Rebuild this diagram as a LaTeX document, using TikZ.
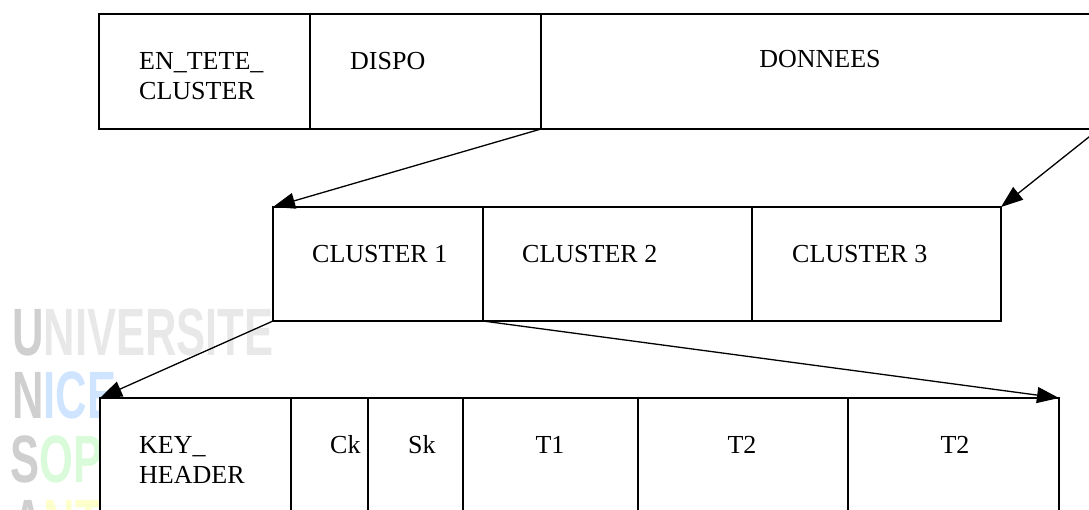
\documentclass[tikz,border=0pt]{standalone}
\usepackage{fontspec}
\setmainfont{Liberation Serif}
\newfontfamily\wmfont{Liberation Sans}
\usetikzlibrary{arrows.meta}
\definecolor{wmgray}{HTML}{CFCFCF}
\definecolor{wmlight}{HTML}{E8E8E8}
\definecolor{wmblue}{HTML}{CFE4FF}
\definecolor{wmgreen}{HTML}{D9FBD9}
\definecolor{wmyellow}{HTML}{FFFFCC}
\tikzset{
  cell/.style={draw, fill=white, line width=1.3pt, inner sep=0pt, outer sep=0pt, anchor=north west},
  lbl/.style={font=\fontsize{26}{29.5}\selectfont, inner sep=0pt, anchor=base west, align=left},
  clbl/.style={font=\fontsize{26}{29.5}\selectfont, inner sep=0pt, anchor=base},
  arr/.style={line width=1.3pt, -{Triangle[length=22pt,width=16pt]}},
  wm/.style={font=\wmfont\bfseries\fontsize{67}{67}\selectfont, inner sep=0pt, anchor=base west, xscale=0.65}
}
\begin{document}
\begin{tikzpicture}[x=1pt,y=-1pt]
\useasboundingbox (0,0) rectangle (1089,509);
\clip (0,0) rectangle (1089,509);

% faded logo in the background (its right part lies under the boxes)
\node[wm] (wm1) at (12,355) {\textcolor{wmgray}{U}\textcolor{wmlight}{NIVERSITE}};
\node[wm] (wm2) at (12,418) {\textcolor{wmgray}{N}\textcolor{wmblue}{ICE}};
\node[wm] (wm3) at (10,482) {\textcolor{wmgray}{S}\textcolor{wmgreen}{OP}};
\node[wm] (wm4) at (12,546) {\textcolor{wmgray}{A}\textcolor{wmyellow}{NT}};

% cluster layout
\node[cell, minimum width=211pt, minimum height=115pt] (entete) at (99,14) {};
\node[cell, minimum width=231pt, minimum height=115pt] (dispo) at (310,14) {};
\node[cell, minimum width=558pt, minimum height=115pt] (donnees) at (541,14) {};
\node[lbl] (tentete) at (139,99) {EN\_TETE\_\\CLUSTER};
\node[lbl] (tdispo) at (350,69) {DISPO};
\node[clbl] (tdonnees) at (820,67) {DONNEES};

% data area
\node[cell, minimum width=210pt, minimum height=114pt] (cl1) at (273,207) {};
\node[cell, minimum width=269pt, minimum height=114pt] (cl2) at (483,207) {};
\node[cell, minimum width=249pt, minimum height=114pt] (cl3) at (752,207) {};
\node[lbl] (tcl1) at (312,262) {CLUSTER 1};
\node[lbl] (tcl2) at (522,262) {CLUSTER 2};
\node[lbl] (tcl3) at (792,262) {CLUSTER 3};

% one cluster
\node[cell, minimum width=191pt, minimum height=140pt] (key) at (100,398) {};
\node[cell, minimum width=77pt, minimum height=140pt] (ck) at (291,398) {};
\node[cell, minimum width=95pt, minimum height=140pt] (sk) at (368,398) {};
\node[cell, minimum width=175pt, minimum height=140pt] (t1) at (463,398) {};
\node[cell, minimum width=210pt, minimum height=140pt] (t2a) at (638,398) {};
\node[cell, minimum width=211pt, minimum height=140pt] (t2b) at (848,398) {};
\node[lbl] (tkey) at (139,483) {KEY\_\\HEADER};
\node[lbl] (tck) at (330,453) {Ck};
\node[lbl] (tsk) at (408,453) {Sk};
\node[clbl] (tt1) at (550,453) {T1};
\node[clbl] (tt2a) at (742,453) {T2};
\node[clbl] (tt2b) at (955,453) {T2};

% expansions
\draw[arr] (donnees.south west) -- (cl1.north west);
\draw[arr] (donnees.south east) -- (cl3.north east);
\draw[arr] (cl1.south west) -- (key.north west);
\draw[arr] (cl1.south east) -- (t2b.north east);
\end{tikzpicture}
\end{document}
